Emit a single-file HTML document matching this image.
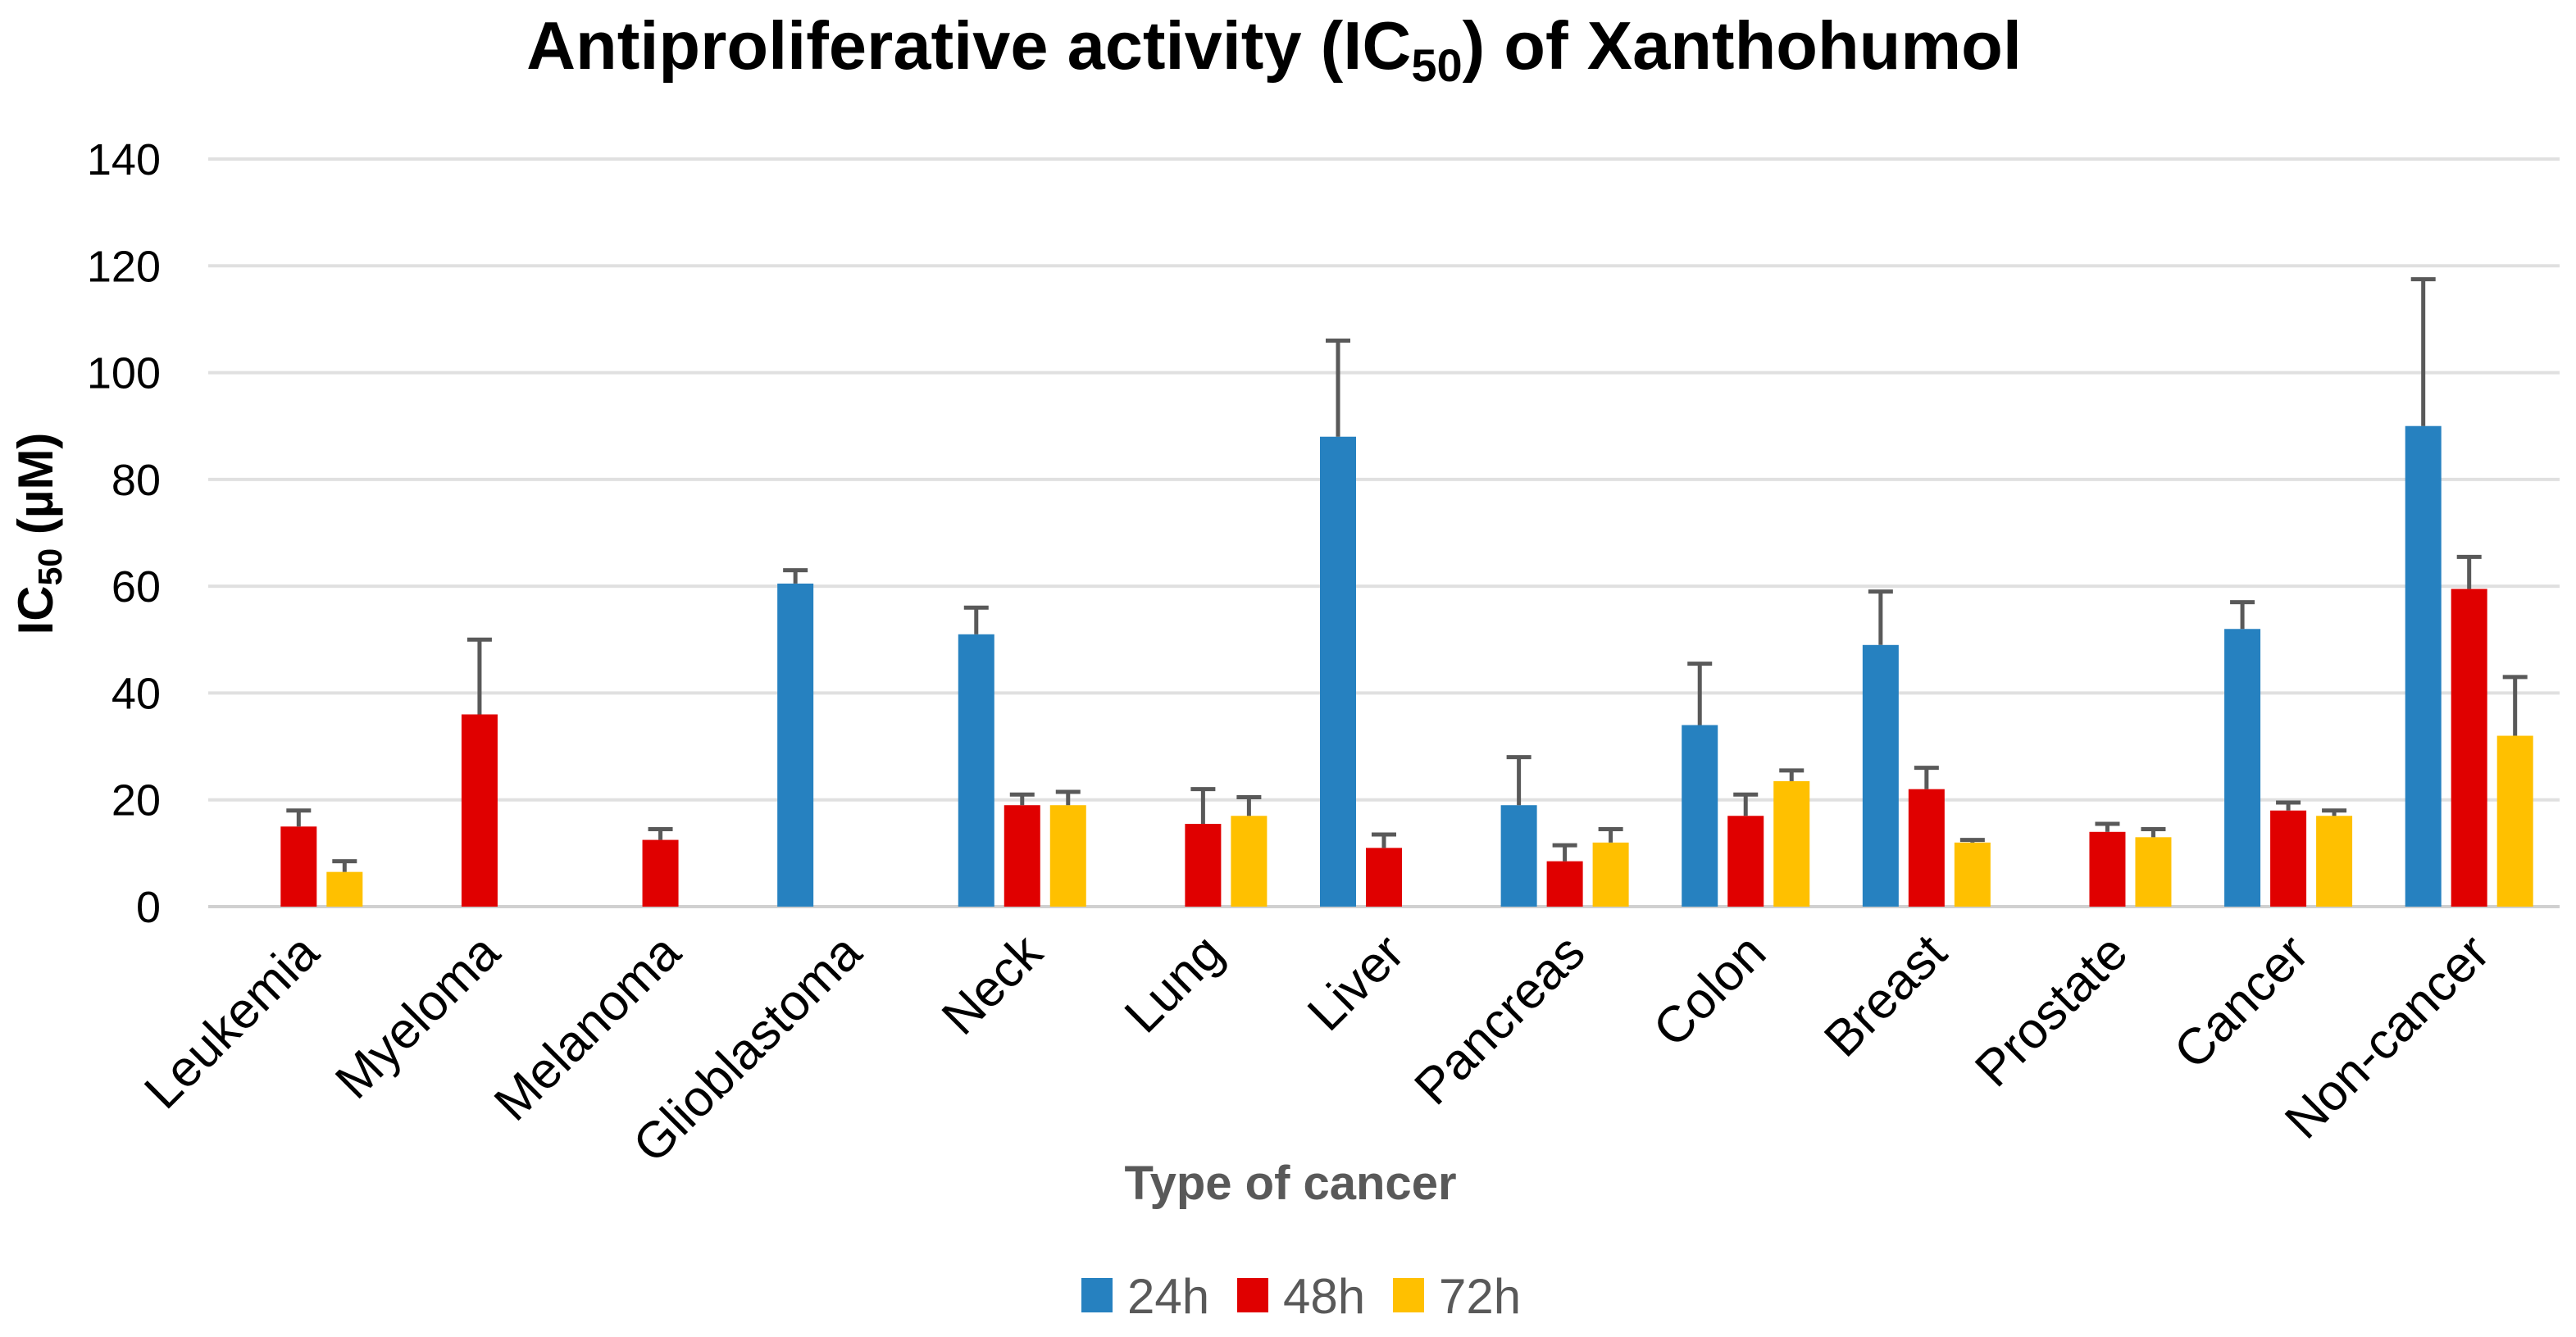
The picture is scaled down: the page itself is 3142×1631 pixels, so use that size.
<!DOCTYPE html>
<html><head><meta charset="utf-8"><style>
html,body{margin:0;padding:0;background:#fff;}
svg{display:block;font-family:"Liberation Sans",sans-serif;}
</style></head><body>
<svg id="chart" width="3142" height="1631" viewBox="0 0 3142 1631" xmlns="http://www.w3.org/2000/svg">
<text x="1554" y="84" text-anchor="middle" font-size="83" font-weight="bold" fill="#000">Antiproliferative activity (IC<tspan font-size="56" dy="15">50</tspan><tspan dy="-15">) of Xanthohumol</tspan></text>
<g id="grid"></g>
<g id="yticks"></g>
<g id="bars"></g>
<g id="xlabels"></g>
<text transform="translate(64,651) rotate(-90)" text-anchor="middle" font-size="60" font-weight="bold" fill="#000">IC<tspan font-size="41" dy="11">50</tspan><tspan dy="-11"> (µM)</tspan></text>
<text x="1574" y="1463" text-anchor="middle" font-size="58" font-weight="bold" fill="#595959">Type of cancer</text>
<g id="legend"></g>
</svg>
<script>
const categories = ["Leukemia","Myeloma","Melanoma","Glioblastoma","Neck","Lung","Liver","Pancreas","Colon","Breast","Prostate","Cancer","Non-cancer"];
const seriesNames = ["24h","48h","72h"];
const values24 = [null,null,null,60.5,51,null,88,19,34,49,null,52,90];
const values48 = [15,36,12.5,null,19,15.5,11,8.5,17,22,14,18,59.5];
const values72 = [6.5,null,null,null,19,17,null,12,23.5,12,13,17,32];
const err24 = [null,null,null,63,56,null,106,28,45.5,59,null,57,117.5];
const err48 = [18,50,14.5,null,21,22,13.5,11.5,21,26,15.5,19.5,65.5];
const err72 = [8.5,null,null,null,21.5,20.5,null,14.5,25.5,12.5,14.5,18,43];
const yTicks = [0,20,40,60,80,100,120,140];

const NS="http://www.w3.org/2000/svg";
const colors=["#2681C0","#E00000","#FFC000"];
const L=254,R=3122,Y0=1106,Y140=194;
function y(v){return Y0-(v/140)*(Y0-Y140);}
const bw=(R-L)/categories.length;
function xc(i){return L+bw*(i+0.5);}
function mk(tag,attrs,parent){const e=document.createElementNS(NS,tag);for(const k in attrs)e.setAttribute(k,attrs[k]);parent.appendChild(e);return e;}
const grid=document.getElementById('grid'),yt=document.getElementById('yticks');
yTicks.forEach(t=>{
  const l=mk('line',{x1:L,x2:R,y1:y(t),y2:y(t),stroke:t===0?'#d0d0d0':'#e0e0e0','stroke-width':4},grid);
  
  
  const tx=mk('text',{x:196,y:y(t)+19,'text-anchor':'end','font-size':54,fill:'#000'},yt);
  tx.textContent=t;
  
  
});
const vals=[values24,values48,values72],errs=[err24,err48,err72];
const bars=document.getElementById('bars');
const barW=44,step=56;
categories.forEach((c,i)=>{
  for(let s=0;s<3;s++){
    const v=vals[s][i];if(v==null)continue;
    const cx=xc(i)+(s-1)*step;
    const r=mk('rect',{x:cx-barW/2,y:y(v),width:barW,height:Y0-y(v),fill:colors[s]},bars);
    
    
    const e=errs[s][i];
    if(e!=null){
      const g=mk('g',{stroke:'#595959','stroke-width':5},bars);
      
      
      mk('line',{x1:cx,x2:cx,y1:y(v),y2:y(e)},g);
      mk('line',{x1:cx-15,x2:cx+15,y1:y(e),y2:y(e)},g);
    }
  }
  const t=mk('text',{transform:`translate(${xc(i)+28},${1166}) rotate(-45)`,'text-anchor':'end','font-size':62,fill:'#000'},document.getElementById('xlabels'));
  t.textContent=c;
  
  
});
const lg=document.getElementById('legend');
const lx=[1319,1509,1699];
seriesNames.forEach((n,s)=>{
  const g=mk('g',{},lg);
  
  
  mk('rect',{x:lx[s],y:1559,width:38,height:42,fill:colors[s]},g);
  const t=mk('text',{x:lx[s]+56,y:1602,'font-size':60,fill:'#595959'},g);
  t.textContent=n;
});
</script>
</body></html>
